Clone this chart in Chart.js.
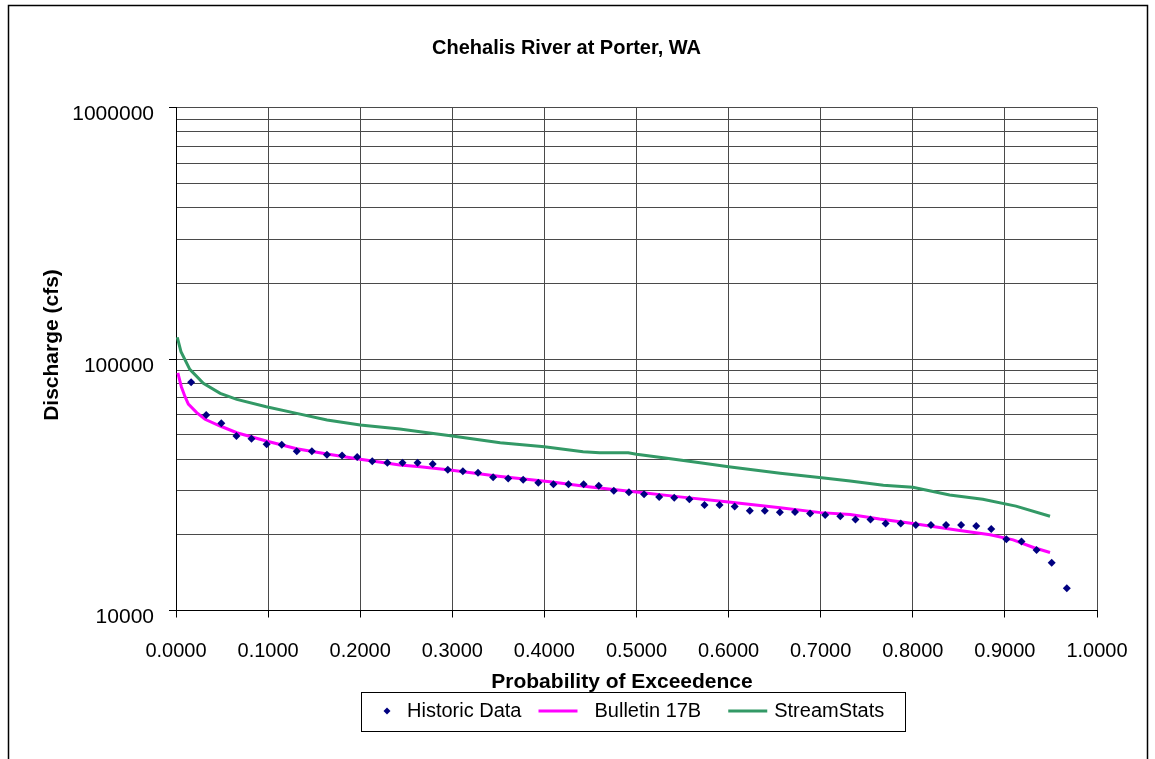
<!DOCTYPE html>
<html><head><meta charset="utf-8">
<script src="https://cdn.jsdelivr.net/npm/chart.js@4.4.1/dist/chart.umd.min.js"></script>
<style>html,body{margin:0;padding:0;background:#fff;}canvas{display:block;}</style>
</head><body>
<canvas id="c" width="1155" height="759"></canvas>
<script>
const chartTitle = 'Chehalis River at Porter, WA';
const xAxisTitle = 'Probability of Exceedence';
const yAxisTitle = 'Discharge (cfs)';
const seriesNames = ['Historic Data', 'Bulletin 17B', 'StreamStats'];

const historicProb = [0.0164,0.0328,0.0492,0.0656,0.0820,0.0984,0.1148,0.1311,0.1475,0.1639,
  0.1803,0.1967,0.2131,0.2295,0.2459,0.2623,0.2787,0.2951,0.3115,0.3279,
  0.3443,0.3607,0.3770,0.3934,0.4098,0.4262,0.4426,0.4590,0.4754,0.4918,
  0.5082,0.5246,0.5410,0.5574,0.5738,0.5902,0.6066,0.6230,0.6393,0.6557,
  0.6721,0.6885,0.7049,0.7213,0.7377,0.7541,0.7705,0.7869,0.8033,0.8197,
  0.8361,0.8525,0.8689,0.8852,0.9016,0.9180,0.9344,0.9508,0.9672];
const historicQ = [80800,59900,55500,49400,48200,45800,45600,43000,43000,41600,
  41300,40800,39200,38700,38700,38700,38200,36300,35800,35300,
  33900,33500,33100,32200,31800,31800,31800,31300,29900,29500,
  29000,28300,28100,27700,26300,26300,25900,24900,24900,24600,
  24650,24300,24000,23700,23000,23000,22200,22200,21900,21900,
  21900,21900,21700,21100,19200,18800,17400,15500,12250];

const b17Prob = [0.002,0.0058,0.0098,0.0134,0.0225,0.0315,0.048,0.066,0.098,0.131,0.164,0.2,
  0.243,0.265,0.2975,0.35,0.406,0.45,0.5,0.547,0.6,0.656,0.7,0.732,0.764,0.8,0.851,0.884,0.909,0.931,0.949];
const b17Q = [88000,77600,70800,66200,61200,57600,54150,50900,47200,44000,41900,39900,
  37900,37300,36200,34200,32500,31000,29600,28300,27000,25600,24500,24100,23100,22200,20800,20000,19100,17800,17000];

const ssProb = [0.0014,0.0054,0.015,0.0297,0.048,0.066,0.098,0.131,0.164,0.2,0.243,0.265,0.3,0.352,0.4,
  0.442,0.46,0.491,0.5,0.533,0.569,0.6,0.656,0.701,0.732,0.768,0.8,0.84,0.876,0.912,0.949];
const ssQ = [122000,106900,91000,80100,73000,69100,64600,60800,57200,54700,52700,51400,49400,46500,44800,
  42800,42400,42400,41800,40300,38700,37300,35100,33700,32700,31500,30900,28800,27700,26000,23700];

const xTickValues = [0,0.1,0.2,0.3,0.4,0.5,0.6,0.7,0.8,0.9,1.0];
const xTickLabels = ['0.0000','0.1000','0.2000','0.3000','0.4000','0.5000','0.6000','0.7000','0.8000','0.9000','1.0000'];
const yTickValues = [10000,20000,30000,40000,50000,60000,70000,80000,90000,
  100000,200000,300000,400000,500000,600000,700000,800000,900000,1000000];
const yMajorValues = [10000,100000,1000000];
const yMajorLabels = ['10000','100000','1000000'];

const FONT = '"Liberation Sans", Arial, sans-serif';
const PLOT_L = 176, PLOT_R = 1097, PLOT_T = 107.5, PLOT_B = 610.5;
const LEG_H = 55, LEG_TOP = 678, LEG_W = 40, LEG_PAD = 23, LEG_FIRST = 357;
const TITLE_SHIFT = 18;
const X_TITLE_POS = [622, 682], Y_TITLE_POS = [52, 345];

function makeImg(fn) {
  const c = document.createElement('canvas');
  c.width = 120; c.height = 12;
  fn(c.getContext('2d'));
  return c;
}
const legendImgs = [
  makeImg(g => { g.fillStyle = '#000080'; g.beginPath(); g.moveTo(70, 2.5); g.lineTo(73.5, 6); g.lineTo(70, 9.5); g.lineTo(66.5, 6); g.closePath(); g.fill(); }),
  makeImg(g => { g.strokeStyle = '#FF00FF'; g.lineWidth = 3; g.beginPath(); g.moveTo(34, 6); g.lineTo(73, 6); g.stroke(); }),
  makeImg(g => { g.strokeStyle = '#339966'; g.lineWidth = 3; g.beginPath(); g.moveTo(44, 6); g.lineTo(83, 6); g.stroke(); })
];

const framePlugin = {
  id: 'frame',
  beforeLayout(chart) {
    const lg = chart.legend;
    if (lg && !lg._patched) {
      const orig = lg.fit;
      lg.fit = function () { orig.call(this); this.height = LEG_H; };
      lg._patched = true;
    }
  },
  afterLayout(chart) {
    const lg = chart.legend;
    if (lg) {
      const dx = LEG_FIRST - (lg.left + LEG_PAD);
      lg.left += dx; lg.right += dx;
      const dy = LEG_TOP - lg.top;
      lg.top += dy; lg.bottom += dy;
    }
    const tb = chart.titleBlock;
    if (tb) { tb.left += TITLE_SHIFT; tb.right += TITLE_SHIFT; }
  },
  beforeDraw(chart) {
    const c = chart.ctx;
    c.save(); c.fillStyle = '#fff'; c.fillRect(0, 0, chart.width, chart.height); c.restore();
  },
  afterDraw(chart) {
    const c = chart.ctx;
    c.save();
    c.strokeStyle = '#000'; c.lineWidth = 1.5;
    c.beginPath();
    c.moveTo(8.5, 800); c.lineTo(8.5, 5.5); c.lineTo(1147.5, 5.5); c.lineTo(1147.5, 800);
    c.stroke();
    c.fillStyle = '#000';
    c.font = 'bold 21px ' + FONT;
    c.textAlign = 'center'; c.textBaseline = 'middle';
    c.fillText(xAxisTitle, X_TITLE_POS[0], X_TITLE_POS[1]);
    c.save();
    c.translate(Y_TITLE_POS[0], Y_TITLE_POS[1]);
    c.rotate(-Math.PI / 2);
    c.fillText(yAxisTitle, 0, 0);
    c.restore();
    c.font = '20px ' + FONT;
    let x = LEG_FIRST, lastEnd = 0;
    seriesNames.forEach(n => {
      const tw = c.measureText(n).width;
      lastEnd = x + LEG_W + 10 + tw;
      x += LEG_W + 10 + tw + LEG_PAD;
    });
    const cy = LEG_TOP + LEG_PAD + 10;
    const left = LEG_FIRST + 30 - 26;
    const right = lastEnd + 21;
    c.lineWidth = 1; c.strokeStyle = '#000';
    c.strokeRect(Math.round(left) + 0.5, Math.round(cy - 19.5) + 0.5, Math.round(right - left), 39);
    c.restore();
  }
};

new Chart(document.getElementById('c'), {
  type: 'scatter',
  data: {
    datasets: [
      { label: seriesNames[0], data: historicProb.map((p, i) => ({x: p, y: historicQ[i]})),
        showLine: false, pointStyle: 'rectRot', pointRadius: 4, pointBorderWidth: 0,
        backgroundColor: '#000080', borderColor: '#000080', order: 0 },
      { label: seriesNames[1], data: b17Prob.map((p, i) => ({x: p, y: b17Q[i]})),
        showLine: true, pointRadius: 0, borderColor: '#FF00FF', backgroundColor: '#FF00FF',
        borderWidth: 3, tension: 0, order: 1 },
      { label: seriesNames[2], data: ssProb.map((p, i) => ({x: p, y: ssQ[i]})),
        showLine: true, pointRadius: 0, borderColor: '#339966', backgroundColor: '#339966',
        borderWidth: 3, tension: 0, order: 2 }
    ]
  },
  options: {
    responsive: false,
    animation: false,
    layout: { padding: { left: 0, right: 1155 - PLOT_R, top: 0, bottom: 0 } },
    scales: {
      x: {
        type: 'linear', min: 0, max: 1,
        afterBuildTicks: s => { s.ticks = xTickValues.map(v => ({value: v})); },
        afterFit: s => { s.height = 759 - LEG_H - PLOT_B; },
        ticks: { callback: (v, i) => xTickLabels[i], font: { family: FONT, size: 20 }, color: '#000',
                 padding: 22, maxRotation: 0, autoSkip: false },
        grid: { color: '#4a4a4a', lineWidth: 1, tickLength: 7, tickColor: '#000' },
        border: { color: '#000', width: 1 },
        title: { display: false }
      },
      y: {
        type: 'logarithmic', min: 10000, max: 1000000,
        afterBuildTicks: s => { s.ticks = yTickValues.map(v => ({value: v})); },
        afterFit: s => { s.width = PLOT_L; },
        ticks: { callback: v => { const k = yMajorValues.indexOf(v); return k >= 0 ? yMajorLabels[k] : ''; },
                 font: { family: FONT, size: 21 }, color: '#000', padding: 15, autoSkip: false, labelOffset: 7 },
        grid: { color: '#4a4a4a', lineWidth: 1, tickLength: 7,
                tickColor: ctx => (ctx.tick && yMajorValues.indexOf(ctx.tick.value) >= 0) ? '#000' : 'rgba(0,0,0,0)' },
        border: { color: '#000', width: 1 },
        title: { display: false }
      }
    },
    plugins: {
      title: { display: true, text: chartTitle, color: '#000',
               font: { family: FONT, size: 20, weight: 'bold' }, padding: { top: 36, bottom: 47.5 } },
      legend: {
        display: true, position: 'bottom', align: 'start',
        labels: {
          font: { family: FONT, size: 20 }, color: '#000', usePointStyle: true,
          pointStyleWidth: LEG_W, padding: LEG_PAD,
          generateLabels: chart => chart.data.datasets.map((d, i) => ({
            text: d.label, pointStyle: legendImgs[i], fillStyle: d.borderColor,
            strokeStyle: d.borderColor, lineWidth: 0, hidden: false, datasetIndex: i, fontColor: '#000'
          }))
        }
      },
      tooltip: { enabled: false }
    }
  },
  plugins: [framePlugin]
});
</script>
</body></html>
